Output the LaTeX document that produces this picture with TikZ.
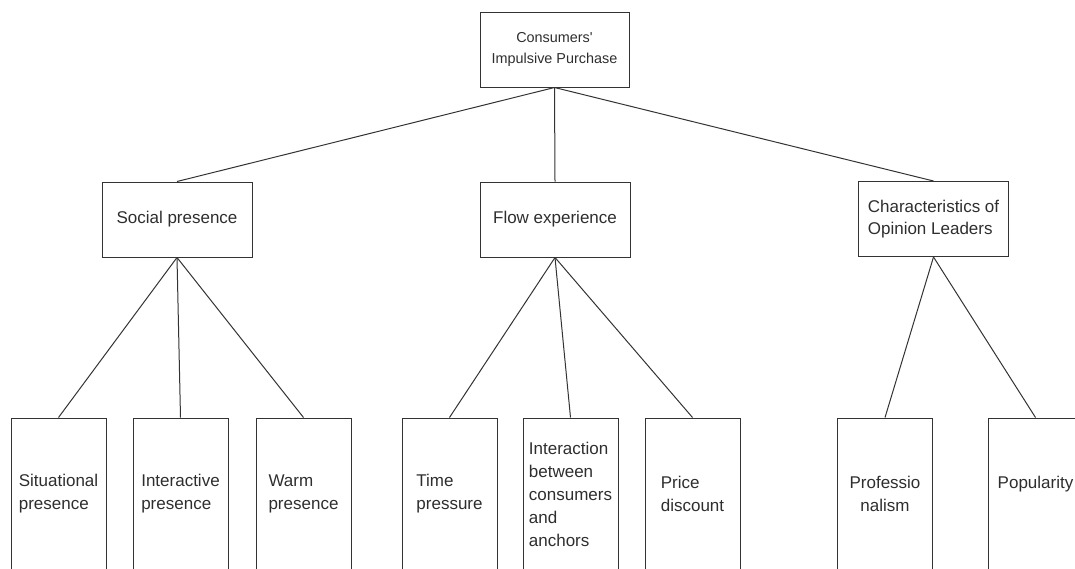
\documentclass[tikz,border=0pt]{standalone}
\usepackage{fontspec}
\setmainfont{Liberation Sans}
\begin{document}
\begin{tikzpicture}[x=1pt,y=-1pt,
  box/.style={draw=black!80,line width=1pt,text=black!82,inner sep=2pt,align=center},
  midbox/.style={box,minimum width=150pt,minimum height=75pt,font=\fontsize{17}{22}\selectfont},
  leafbox/.style={box,minimum width=95pt,minimum height=152pt,align=left,font=\fontsize{17}{23}\selectfont},
  link/.style={draw=black!80,line width=1pt}]
  \clip (0,0) rectangle (1075,568);

  % top level
  \node[box,minimum width=149pt,minimum height=75pt,font=\fontsize{14.4}{21.5}\selectfont] (purchase) at (554.5,49.5) {Consumers\textquotesingle\\Impulsive Purchase};

  % second level
  \node[midbox] (social) at (177,219.5) {Social presence};
  \node[midbox] (flow) at (555,219.5) {Flow experience};
  \node[midbox,align=left] (leaders) at (933.5,219) {Characteristics of\\Opinion Leaders};

  % leaves
  \node[leafbox] (situational) at (58.5,494) {Situational\\presence};
  \node[leafbox] (interactive) at (180.5,494) {Interactive\\presence};
  \node[leafbox] (warm) at (303.5,494) {Warm\\presence};
  \node[leafbox] (time) at (449.5,494) {Time\\pressure};
  \node[leafbox] (anchors) at (570.5,494) {Interaction\\between\\consumers\\and\\anchors};
  \node[leafbox] (price) at (692.5,494) {Price\\discount};
  \node[leafbox,align=center] (profession) at (885,494) {Professio\\nalism};
  \node[leafbox] (popularity) at (1035.5,494) {Popularity\\\phantom{x}};

  \draw[link] (purchase.south) -- (social.north);
  \draw[link] (purchase.south) -- (flow.north);
  \draw[link] (purchase.south) -- (leaders.north);

  \draw[link] (social.south) -- (situational.north);
  \draw[link] (social.south) -- (interactive.north);
  \draw[link] (social.south) -- (warm.north);

  \draw[link] (flow.south) -- (time.north);
  \draw[link] (flow.south) -- (anchors.north);
  \draw[link] (flow.south) -- (price.north);

  \draw[link] (leaders.south) -- (profession.north);
  \draw[link] (leaders.south) -- (popularity.north);
\end{tikzpicture}
\end{document}
